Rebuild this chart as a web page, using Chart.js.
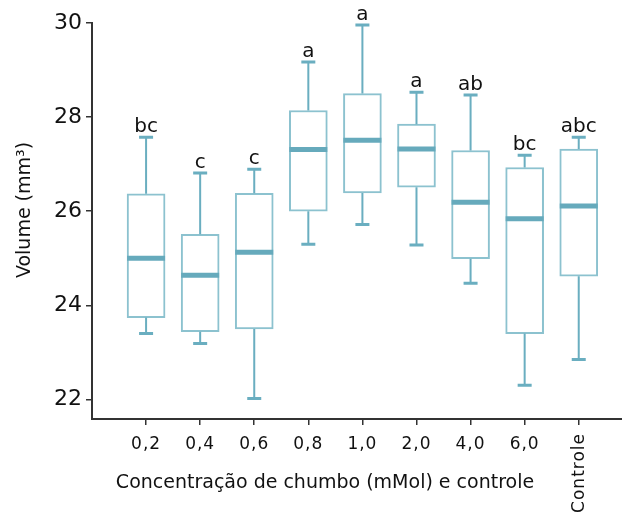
<!DOCTYPE html>
<html>
<head>
<meta charset="utf-8">
<script src="https://cdn.jsdelivr.net/npm/chart.js@4"></script>
<style>
  body { margin: 0; background: #fff; }
  #caixa { width: 622px; height: 516px; }
</style>
</head>
<body>
<div id="caixa"><canvas id="grafico"></canvas></div>
<script>
const categorias = ["0,2", "0,4", "0,6", "0,8", "1,0", "2,0", "4,0", "6,0", "Controle"];
const minimos  = [23.40, 23.19, 22.02, 25.30, 25.72, 25.28, 24.47, 22.30, 22.85];
const quartil1 = [23.74, 23.44, 23.50, 26.00, 26.39, 26.51, 24.99, 23.40, 24.62];
const medianas = [25.00, 24.64, 25.13, 27.31, 27.51, 27.32, 26.19, 25.84, 26.11];
const quartil3 = [26.37, 25.51, 26.38, 28.14, 28.50, 27.85, 27.29, 26.93, 27.32];
const maximos  = [27.57, 26.81, 26.89, 29.17, 29.96, 28.53, 28.47, 27.19, 27.57];
const letras = ["bc", "c", "c", "a", "a", "a", "ab", "bc", "abc"];
const ticksY = [22, 24, 26, 28, 30];

const fonte = "'DejaVu Sans', sans-serif";
const corLinha = "#6aaec0";
const corCaixa = "#8cc2cf";
const corMediana = "#66aabc";

const caixas = categorias.map((c, i) => ({ x: i, y: [quartil1[i], quartil3[i]] }));

// bigodes, medianas, letras e textos
const boxplotExtra = {
    id: "boxplotExtra",
    afterDatasetsDraw(chart) {
        const ctx = chart.ctx;
        const xs = chart.scales.x;
        const ys = chart.scales.y;
        const meia = 19;
        ctx.save();
        for (let i = 0; i < categorias.length; i++) {
            const px = xs.getPixelForValue(i);
            const yMin = ys.getPixelForValue(minimos[i]);
            const yQ1 = ys.getPixelForValue(quartil1[i]);
            const yMed = ys.getPixelForValue(medianas[i]);
            const yQ3 = ys.getPixelForValue(quartil3[i]);
            const yMax = ys.getPixelForValue(maximos[i]);

            ctx.strokeStyle = corLinha;
            ctx.lineWidth = 2;
            ctx.beginPath();
            ctx.moveTo(px, yQ3); ctx.lineTo(px, yMax);
            ctx.moveTo(px, yQ1); ctx.lineTo(px, yMin);
            ctx.stroke();

            ctx.lineWidth = 3;
            ctx.beginPath();
            ctx.moveTo(px - 7, yMax); ctx.lineTo(px + 7, yMax);
            ctx.moveTo(px - 7, yMin); ctx.lineTo(px + 7, yMin);
            ctx.stroke();

            ctx.strokeStyle = corMediana;
            ctx.lineWidth = 5;
            ctx.beginPath();
            ctx.moveTo(px - meia, yMed); ctx.lineTo(px + meia, yMed);
            ctx.stroke();

            ctx.fillStyle = "#111";
            ctx.font = "20px " + fonte;
            ctx.textAlign = "center";
            ctx.textBaseline = "alphabetic";
            ctx.fillText(letras[i], px, yMax - 5);
        }

        // rótulos do eixo x
        ctx.font = "17px " + fonte;
        ctx.letterSpacing = "1px";
        ctx.fillStyle = "#111";
        ctx.textBaseline = "middle";
        for (let i = 0; i < categorias.length; i++) {
            const px = xs.getPixelForValue(i);
            if (categorias[i] === "Controle") {
                ctx.save();
                ctx.translate(px + 1, 433);
                ctx.rotate(-Math.PI / 2);
                ctx.textAlign = "right";
                ctx.fillText(categorias[i], 0, 0);
                ctx.restore();
            } else {
                ctx.textAlign = "center";
                ctx.fillText(categorias[i], px, 445);
            }
        }
        ctx.letterSpacing = "0px";

        // títulos
        ctx.font = "19px " + fonte;
        ctx.textAlign = "center";
        ctx.fillText("Concentração de chumbo (mMol) e controle", 325, 483);
        ctx.save();
        ctx.translate(25, 210);
        ctx.rotate(-Math.PI / 2);
        ctx.fillText("Volume (mm³)", 0, 0);
        ctx.restore();
        ctx.restore();
    }
};

new Chart(document.getElementById("grafico").getContext("2d"), {
    type: "bar",
    data: {
        datasets: [{
            label: "Volume",
            data: caixas,
            backgroundColor: "#ffffff",
            borderColor: corCaixa,
            borderWidth: 2,
            borderSkipped: false,
            barThickness: 38
        }]
    },
    options: {
        responsive: true,
        maintainAspectRatio: false,
        animation: false,
        layout: { padding: { top: 23, right: 0, left: 0, bottom: 0 } },
        plugins: {
            legend: { display: false },
            tooltip: { enabled: false }
        },
        scales: {
            x: {
                type: "linear",
                min: -1,
                max: 8.8,
                offset: false,
                afterBuildTicks: (s) => { s.ticks = categorias.map((c, i) => ({ value: i })); },
                afterFit: (s) => { s.height = 97; },
                ticks: { callback: () => "", font: { size: 17 } },
                grid: { offset: false, drawOnChartArea: false, drawTicks: true, tickLength: 6, color: "#333", lineWidth: 1.5 },
                border: { color: "#333", width: 2 }
            },
            y: {
                min: 21.585,
                max: 30,
                afterBuildTicks: (s) => { s.ticks = ticksY.map(v => ({ value: v })); },
                afterFit: (s) => { s.width = 92; },
                ticks: {
                    padding: 4,
                    color: "#111",
                    font: { family: fonte, size: 22 }
                },
                grid: { drawOnChartArea: false, drawTicks: true, tickLength: 6, color: "#333", lineWidth: 1.5 },
                border: { color: "#333", width: 2 }
            }
        }
    },
    plugins: [boxplotExtra]
});
</script>
</body>
</html>
